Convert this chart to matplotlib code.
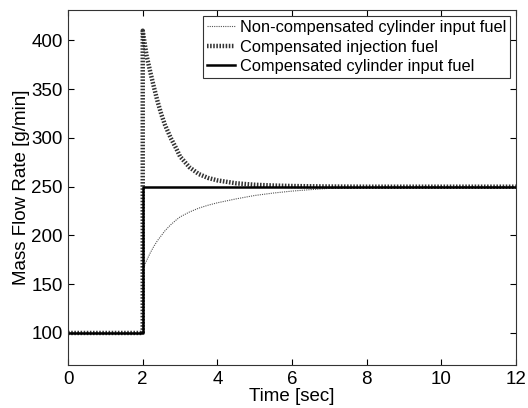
import numpy as np
import matplotlib
matplotlib.use('Agg')
from matplotlib import pyplot as plt

plt.rcParams['font.family'] = ['Liberation Sans', 'DejaVu Sans']

# values (g/min), step at t = 2 s
t_nc = [0, 2, 2, 2.1, 2.2, 2.3, 2.4, 2.5, 2.6, 2.75, 2.9, 3, 3.25, 3.5, 3.75,
        4, 4.5, 5, 5.5, 6, 6.5, 7, 8, 9, 10, 12]
y_nc = [100, 100, 165, 174, 182, 189, 195, 200, 205, 211, 216, 219, 224, 228, 231,
        233.5, 237.5, 241, 243.5, 245.5, 247, 248.3, 249.4, 249.8, 250, 250]

t_inj = [0, 2, 2, 2.1, 2.2, 2.3, 2.4, 2.5, 2.6, 2.75, 2.9, 3, 3.25, 3.5, 3.75,
         4, 4.5, 5, 5.5, 6, 7, 8, 10, 12]
y_inj = [100, 100, 410, 385, 368, 352, 337, 324, 313, 300, 289, 281, 270, 263, 259,
         256.5, 253.5, 252, 251.2, 250.7, 250.2, 250, 250, 250]

t_cyl = [0, 2, 2, 12]
y_cyl = [100, 100, 250, 250]

labels = ['Non-compensated cylinder input fuel',
          'Compensated injection fuel',
          'Compensated cylinder input fuel']

fig = plt.figure(figsize=(5.28, 4.08), dpi=100)
ax = fig.add_axes([0.129, 0.105, 0.848, 0.87])

ax.plot(t_nc, y_nc, color='#555555', lw=0.8, ls=(0, (1, 1)), label=labels[0])
ax.plot(t_inj, y_inj, color='#333333', lw=3.2, ls=(0, (0.35, 0.35)), label=labels[1])
ax.plot(t_cyl, y_cyl, color='black', lw=1.8, label=labels[2])

ax.set_xlim(0, 12)
ax.set_ylim(67, 431)
ax.set_xticks(np.arange(0, 13, 2))
ax.set_yticks(np.arange(100, 401, 50))
ax.tick_params(direction='in', top=True, right=True, labelsize=13.5, length=4, pad=4)
for s in ax.spines.values():
    s.set_linewidth(0.8)
    s.set_color('#333333')

ax.set_xlabel('Time [sec]', fontsize=13.5, labelpad=0)
ax.set_ylabel('Mass Flow Rate [g/min]', fontsize=13.5, labelpad=1)

leg = ax.legend(loc='upper right', fontsize=11.8, fancybox=False, framealpha=1,
                edgecolor='#333333', handlelength=1.7, handletextpad=0.3,
                borderpad=0.25, labelspacing=0.28, borderaxespad=0.35)
leg.get_frame().set_linewidth(0.8)

fig.savefig('out.png', dpi=100)
